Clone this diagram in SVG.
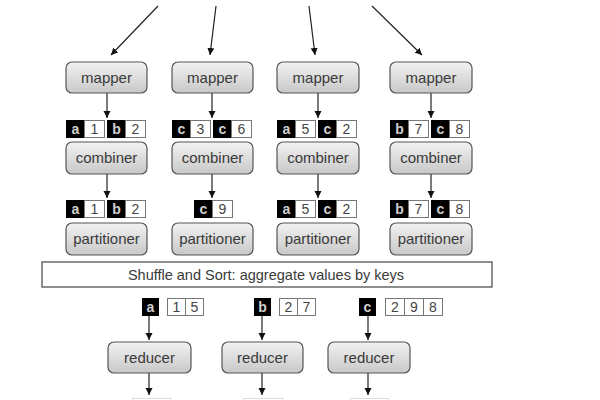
<svg xmlns="http://www.w3.org/2000/svg" width="600" height="400" viewBox="0 0 600 400">
<defs>
<linearGradient id="g" x1="0" y1="0" x2="0" y2="1">
<stop offset="0" stop-color="#f2f2f2"/>
<stop offset="1" stop-color="#c8c8c8"/>
</linearGradient>
<marker id="ah" markerWidth="8" markerHeight="8" refX="7" refY="4" orient="auto" markerUnits="userSpaceOnUse">
<path d="M0,0.5 L7,4 L0,7.5 Z" fill="#111"/>
</marker>
</defs>
<style>
.box{fill:url(#g);stroke:#555;stroke-width:1.2}
.lbl{font-family:"Liberation Sans",Arial,sans-serif;font-size:15px;fill:#3a3a3a;text-anchor:middle}
.k{fill:#000;stroke:#000}
.v{fill:#fff;stroke:#777;stroke-width:1}
.kt{font-family:"Liberation Sans",Arial,sans-serif;font-size:14px;font-weight:bold;fill:#d0d0d0;text-anchor:middle}
.vt{font-family:"Liberation Sans",Arial,sans-serif;font-size:14px;fill:#444;text-anchor:middle}
.c{stroke:#222;stroke-width:1.2;fill:none;marker-end:url(#ah)}
.sh{fill:#fff;stroke:#444;stroke-width:1.2}
.out{fill:none;stroke:#ddd;stroke-width:1}
</style>
<rect width="600" height="400" fill="#fff"/>
<g id="connectors">
<line class="c" x1="158" y1="6" x2="111" y2="55"/>
<line class="c" x1="216" y1="6" x2="210" y2="55"/>
<line class="c" x1="309" y1="6" x2="315" y2="55"/>
<line class="c" x1="372" y1="6" x2="422" y2="55"/>
<line class="c" x1="107" y1="93" x2="107" y2="118"/>
<line class="c" x1="212" y1="93" x2="212" y2="118"/>
<line class="c" x1="318" y1="93" x2="318" y2="118"/>
<line class="c" x1="431" y1="93" x2="431" y2="118"/>
<line class="c" x1="107" y1="174" x2="107" y2="198"/>
<line class="c" x1="212" y1="174" x2="212" y2="198"/>
<line class="c" x1="318" y1="174" x2="318" y2="198"/>
<line class="c" x1="431" y1="174" x2="431" y2="198"/>
<line class="c" x1="149" y1="316" x2="149" y2="340"/>
<line class="c" x1="262" y1="316" x2="262" y2="340"/>
<line class="c" x1="368" y1="316" x2="368" y2="340"/>
<line class="c" x1="149" y1="373" x2="149" y2="395"/>
<line class="c" x1="262" y1="373" x2="262" y2="395"/>
<line class="c" x1="368" y1="373" x2="368" y2="395"/>
</g>
<g id="mapper1"><rect class="box" x="66" y="62" width="81" height="31" rx="6"/><text class="lbl" x="106.5" y="82.5">mapper</text></g>
<g id="mapper2"><rect class="box" x="172" y="62" width="81" height="31" rx="6"/><text class="lbl" x="212.5" y="82.5">mapper</text></g>
<g id="mapper3"><rect class="box" x="277" y="62" width="82" height="31" rx="6"/><text class="lbl" x="318" y="82.5">mapper</text></g>
<g id="mapper4"><rect class="box" x="390" y="62" width="82" height="31" rx="6"/><text class="lbl" x="431" y="82.5">mapper</text></g>
<g id="kv1a">
<rect class="k" x="66.5" y="120.5" width="18" height="17"/><text class="kt" x="75.5" y="134">a</text>
<rect class="v" x="84.5" y="120.5" width="20" height="17"/><text class="vt" x="94.5" y="134">1</text>
<rect class="k" x="107.5" y="120.5" width="18" height="17"/><text class="kt" x="116.5" y="134">b</text>
<rect class="v" x="125.5" y="120.5" width="20" height="17"/><text class="vt" x="135.5" y="134">2</text>
</g>
<g id="kv1b">
<rect class="k" x="172.5" y="120.5" width="18" height="17"/><text class="kt" x="181.5" y="134">c</text>
<rect class="v" x="190.5" y="120.5" width="20" height="17"/><text class="vt" x="200.5" y="134">3</text>
<rect class="k" x="213.5" y="120.5" width="18" height="17"/><text class="kt" x="222.5" y="134">c</text>
<rect class="v" x="231.5" y="120.5" width="20" height="17"/><text class="vt" x="241.5" y="134">6</text>
</g>
<g id="kv1c">
<rect class="k" x="277.5" y="120.5" width="18" height="17"/><text class="kt" x="286.5" y="134">a</text>
<rect class="v" x="295.5" y="120.5" width="20" height="17"/><text class="vt" x="305.5" y="134">5</text>
<rect class="k" x="318.5" y="120.5" width="18" height="17"/><text class="kt" x="327.5" y="134">c</text>
<rect class="v" x="336.5" y="120.5" width="20" height="17"/><text class="vt" x="346.5" y="134">2</text>
</g>
<g id="kv1d">
<rect class="k" x="390.5" y="120.5" width="18" height="17"/><text class="kt" x="399.5" y="134">b</text>
<rect class="v" x="408.5" y="120.5" width="20" height="17"/><text class="vt" x="418.5" y="134">7</text>
<rect class="k" x="431.5" y="120.5" width="18" height="17"/><text class="kt" x="440.5" y="134">c</text>
<rect class="v" x="449.5" y="120.5" width="20" height="17"/><text class="vt" x="459.5" y="134">8</text>
</g>
<g id="combiner1"><rect class="box" x="66" y="142" width="81" height="32" rx="6"/><text class="lbl" x="106.5" y="163">combiner</text></g>
<g id="combiner2"><rect class="box" x="172" y="142" width="81" height="32" rx="6"/><text class="lbl" x="212.5" y="163">combiner</text></g>
<g id="combiner3"><rect class="box" x="277" y="142" width="82" height="32" rx="6"/><text class="lbl" x="318" y="163">combiner</text></g>
<g id="combiner4"><rect class="box" x="390" y="142" width="82" height="32" rx="6"/><text class="lbl" x="431" y="163">combiner</text></g>
<g id="kv2a">
<rect class="k" x="66.5" y="200.5" width="18" height="17"/><text class="kt" x="75.5" y="214">a</text>
<rect class="v" x="84.5" y="200.5" width="20" height="17"/><text class="vt" x="94.5" y="214">1</text>
<rect class="k" x="107.5" y="200.5" width="18" height="17"/><text class="kt" x="116.5" y="214">b</text>
<rect class="v" x="125.5" y="200.5" width="20" height="17"/><text class="vt" x="135.5" y="214">2</text>
</g>
<g id="kv2b">
<rect class="k" x="194.5" y="200.5" width="18" height="17"/><text class="kt" x="203.5" y="214">c</text>
<rect class="v" x="212.5" y="200.5" width="20" height="17"/><text class="vt" x="222.5" y="214">9</text>
</g>
<g id="kv2c">
<rect class="k" x="277.5" y="200.5" width="18" height="17"/><text class="kt" x="286.5" y="214">a</text>
<rect class="v" x="295.5" y="200.5" width="20" height="17"/><text class="vt" x="305.5" y="214">5</text>
<rect class="k" x="318.5" y="200.5" width="18" height="17"/><text class="kt" x="327.5" y="214">c</text>
<rect class="v" x="336.5" y="200.5" width="20" height="17"/><text class="vt" x="346.5" y="214">2</text>
</g>
<g id="kv2d">
<rect class="k" x="390.5" y="200.5" width="18" height="17"/><text class="kt" x="399.5" y="214">b</text>
<rect class="v" x="408.5" y="200.5" width="20" height="17"/><text class="vt" x="418.5" y="214">7</text>
<rect class="k" x="431.5" y="200.5" width="18" height="17"/><text class="kt" x="440.5" y="214">c</text>
<rect class="v" x="449.5" y="200.5" width="20" height="17"/><text class="vt" x="459.5" y="214">8</text>
</g>
<g id="partitioner1"><rect class="box" x="66" y="223" width="81" height="32" rx="6"/><text class="lbl" x="106.5" y="244">partitioner</text></g>
<g id="partitioner2"><rect class="box" x="172" y="223" width="81" height="32" rx="6"/><text class="lbl" x="212.5" y="244">partitioner</text></g>
<g id="partitioner3"><rect class="box" x="277" y="223" width="82" height="32" rx="6"/><text class="lbl" x="318" y="244">partitioner</text></g>
<g id="partitioner4"><rect class="box" x="390" y="223" width="82" height="32" rx="6"/><text class="lbl" x="431" y="244">partitioner</text></g>
<g id="shuffle"><rect class="sh" x="42" y="262" width="450" height="25"/><text class="lbl" x="266" y="279.5" style="font-size:14.5px">Shuffle and Sort: aggregate values by keys</text></g>
<g id="kv3a">
<rect class="k" x="142.5" y="298.5" width="16" height="17"/><text class="kt" x="150.5" y="312">a</text>
<rect class="v" x="167.5" y="298.5" width="18" height="17"/><text class="vt" x="176.5" y="312">1</text>
<rect class="v" x="185.5" y="298.5" width="18" height="17"/><text class="vt" x="194.5" y="312">5</text>
</g>
<g id="kv3b">
<rect class="k" x="254.5" y="298.5" width="16" height="17"/><text class="kt" x="262.5" y="312">b</text>
<rect class="v" x="279.5" y="298.5" width="18" height="17"/><text class="vt" x="288.5" y="312">2</text>
<rect class="v" x="297.5" y="298.5" width="18" height="17"/><text class="vt" x="306.5" y="312">7</text>
</g>
<g id="kv3c">
<rect class="k" x="359.5" y="298.5" width="16" height="17"/><text class="kt" x="367.5" y="312">c</text>
<rect class="v" x="385.5" y="298.5" width="19" height="17"/><text class="vt" x="395" y="312">2</text>
<rect class="v" x="404.5" y="298.5" width="19" height="17"/><text class="vt" x="414" y="312">9</text>
<rect class="v" x="423.5" y="298.5" width="19" height="17"/><text class="vt" x="433" y="312">8</text>
</g>
<g id="reducer1"><rect class="box" x="108" y="342" width="83" height="31" rx="6"/><text class="lbl" x="149.5" y="362.5">reducer</text></g>
<g id="reducer2"><rect class="box" x="222" y="342" width="81" height="31" rx="6"/><text class="lbl" x="262.5" y="362.5">reducer</text></g>
<g id="reducer3"><rect class="box" x="328" y="342" width="82" height="31" rx="6"/><text class="lbl" x="369" y="362.5">reducer</text></g>
<g id="output1"><rect class="out" x="132.5" y="398.5" width="38" height="10"/></g>
<g id="output2"><rect class="out" x="243.5" y="398.5" width="39" height="10"/></g>
<g id="output3"><rect class="out" x="350.5" y="398.5" width="38" height="10"/></g>
</svg>
